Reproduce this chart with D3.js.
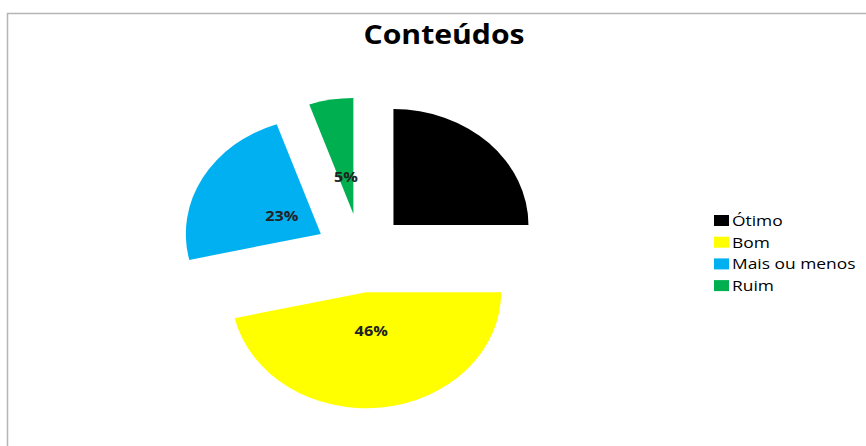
<!DOCTYPE html>
<html>
<head>
<meta charset="utf-8">
<script src="https://cdn.jsdelivr.net/npm/d3@7"></script>
<style>
  body { margin: 0; background: #fff; }
  text { font-family: "Open Sans", "Noto Sans", sans-serif; }
</style>
</head>
<body>
<div id="chart"></div>
<script>
// chart data
var categories = ["Ótimo", "Bom", "Mais ou menos", "Ruim"];
var values = [25.0, 46.4, 23.3, 5.3];
var colors = ["#000000", "#ffff00", "#00b0f0", "#00b050"];
var title = "Conteúdos";

var svgWidth = 866;
var svgHeight = 446;

// the original picture is stretched a little horizontally
var stretch = 1.16;

var svg = d3.select("#chart")
  .append("svg")
  .attr("width", svgWidth)
  .attr("height", svgHeight);

// chart frame (only top & left edge visible)
svg.append("path")
  .attr("d", "M7.5," + svgHeight + " L7.5,13.5 L" + svgWidth + ",13.5")
  .attr("fill", "none")
  .attr("stroke", "#b5b5b5")
  .attr("stroke-width", 1.5);

// title
svg.append("text")
  .attr("transform", "translate(444, 44) scale(" + stretch + ",1)")
  .attr("text-anchor", "middle")
  .attr("font-size", 26)
  .attr("font-weight", "bold")
  .attr("fill", "#000")
  .text(title);

// pie geometry
var cx = 361, cy = 253;
var rx = 135, ry = 116;
var explode = 0.34 * rx;
var labelDist = 0.33;

var pie = d3.pie().sort(null).value(d => d);
var arcs = pie(values);

var arc = d3.arc()
  .innerRadius(0)
  .outerRadius(rx);

var pieGroup = svg.append("g")
  .attr("transform", `translate(${cx}, ${cy}) scale(1, ${ry / rx})`);

function midAngle(d) { return (d.startAngle + d.endAngle) / 2; }

pieGroup.selectAll("path")
  .data(arcs)
  .enter()
  .append("path")
  .attr("d", arc)
  .attr("fill", (d, i) => colors[i])
  .attr("transform", d => {
    var a = midAngle(d);
    return `translate(${explode * Math.sin(a)}, ${-explode * Math.cos(a)})`;
  });

// percentage labels
var total = d3.sum(values);
var pct = d3.format(".0%");

svg.selectAll("text.pieLabel")
  .data(arcs)
  .enter()
  .append("text")
  .classed("pieLabel", true)
  .attr("transform", d => {
    var a = midAngle(d);
    var k = explode / rx + labelDist;
    var x = cx + k * rx * Math.sin(a);
    var y = cy - k * ry * Math.cos(a);
    return `translate(${x}, ${y}) scale(${stretch},1)`;
  })
  .attr("text-anchor", "middle")
  .attr("dominant-baseline", "central")
  .attr("font-size", 14)
  .attr("font-weight", "bold")
  .attr("fill", (d, i) => i === 0 ? "#000" : "#222")
  .text(d => pct(d.value / total));

// legend
var legend = svg.append("g")
  .attr("transform", "translate(714, 215)");

var rowH = 21.7;

legend.selectAll("rect")
  .data(categories)
  .enter()
  .append("rect")
  .attr("x", 0)
  .attr("y", (d, i) => i * rowH)
  .attr("width", 15)
  .attr("height", 11)
  .attr("fill", (d, i) => colors[i]);

legend.selectAll("text")
  .data(categories)
  .enter()
  .append("text")
  .attr("transform", (d, i) => `translate(18, ${i * rowH + 11}) scale(${stretch},1)`)
  .attr("font-size", 15)
  .attr("fill", "#000")
  .text(d => d);
</script>
</body>
</html>
